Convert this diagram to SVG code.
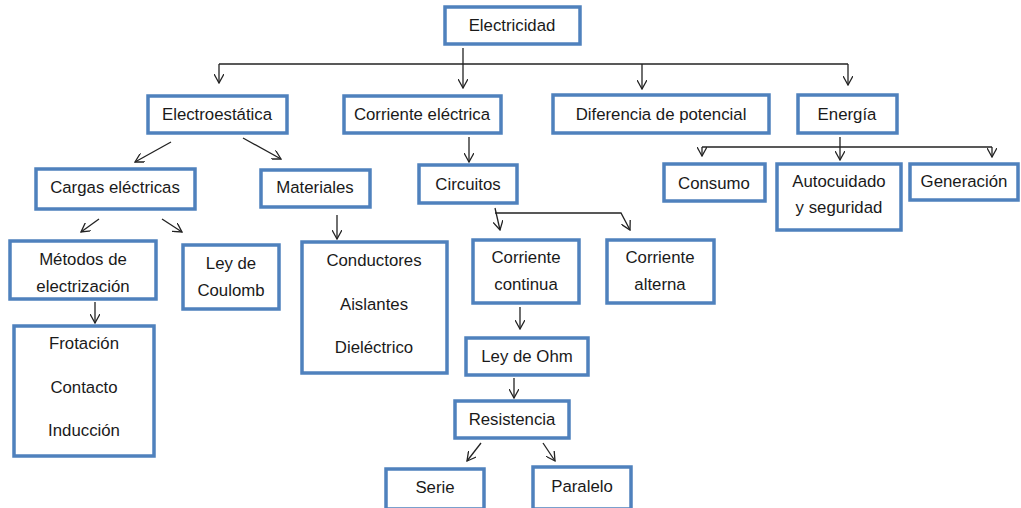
<svg xmlns="http://www.w3.org/2000/svg" width="1021" height="508" viewBox="0 0 1021 508">
<style>
.box{fill:#fff;stroke:#4F81BD;stroke-width:3.5}
.t{font-family:"Liberation Sans",Arial,sans-serif;font-size:16.8px;fill:#1a1a1a;text-anchor:middle}
.c{fill:none;stroke:#222;stroke-width:1.3}
</style>
<defs>
<marker id="ah" viewBox="0 0 10 10" refX="9" refY="5" markerWidth="10" markerHeight="10" markerUnits="userSpaceOnUse" orient="auto">
<path d="M0,0 L9,5 L0,10" fill="none" stroke="#222" stroke-width="1.3"/>
</marker>
</defs>
<rect width="1021" height="508" fill="#fff"/>
<g id="connectors">
<line class="c" x1="463" y1="48" x2="463" y2="88" marker-end="url(#ah)"/>
<path class="c" d="M219,64 H848"/>
<line class="c" x1="219" y1="64" x2="219" y2="83" marker-end="url(#ah)"/>
<line class="c" x1="642" y1="64" x2="642" y2="89" marker-end="url(#ah)"/>
<line class="c" x1="848" y1="64" x2="848" y2="85" marker-end="url(#ah)"/>
<line class="c" x1="840" y1="137" x2="840" y2="160" marker-end="url(#ah)"/>
<path class="c" d="M702,147 H992"/>
<line class="c" x1="702" y1="147" x2="702" y2="156" marker-end="url(#ah)"/>
<line class="c" x1="992" y1="147" x2="992" y2="157" marker-end="url(#ah)"/>
<line class="c" x1="171" y1="142" x2="135" y2="162" marker-end="url(#ah)"/>
<line class="c" x1="243" y1="138" x2="281" y2="159" marker-end="url(#ah)"/>
<line class="c" x1="99" y1="219" x2="81" y2="232" marker-end="url(#ah)"/>
<line class="c" x1="162" y1="219" x2="182" y2="232" marker-end="url(#ah)"/>
<line class="c" x1="337" y1="215" x2="337" y2="239" marker-end="url(#ah)"/>
<line class="c" x1="95" y1="302" x2="95" y2="323" marker-end="url(#ah)"/>
<line class="c" x1="469" y1="137" x2="469" y2="162" marker-end="url(#ah)"/>
<path class="c" d="M495,208 L500,230" marker-end="url(#ah)"/>
<path class="c" d="M495,213 H621 L630,230" marker-end="url(#ah)"/>
<line class="c" x1="520" y1="307" x2="520" y2="329" marker-end="url(#ah)"/>
<line class="c" x1="514" y1="378" x2="514" y2="398" marker-end="url(#ah)"/>
<line class="c" x1="481" y1="443" x2="467" y2="461" marker-end="url(#ah)"/>
<line class="c" x1="543" y1="443" x2="555" y2="461" marker-end="url(#ah)"/>
</g>
<g id="electricidad"><rect class="box" x="445" y="7" width="135" height="37"/><text class="t" x="512" y="31">Electricidad</text></g>
<g id="electroestatica"><rect class="box" x="148" y="96" width="139" height="37"/><text class="t" x="217" y="120">Electroestática</text></g>
<g id="corriente-electrica"><rect class="box" x="344" y="96" width="157" height="37"/><text class="t" x="422" y="120">Corriente eléctrica</text></g>
<g id="diferencia"><rect class="box" x="553" y="95" width="216" height="38"/><text class="t" x="661" y="120">Diferencia de potencial</text></g>
<g id="energia"><rect class="box" x="798" y="95" width="99" height="38"/><text class="t" x="847" y="120">Energía</text></g>
<g id="consumo"><rect class="box" x="664" y="164" width="101" height="37"/><text class="t" x="714" y="189">Consumo</text></g>
<g id="autocuidado"><rect class="box" x="777" y="164" width="124" height="66"/><text class="t" x="839" y="187">Autocuidado</text><text class="t" x="839" y="213">y seguridad</text></g>
<g id="generacion"><rect class="box" x="910" y="164" width="108" height="36"/><text class="t" x="964" y="187">Generación</text></g>
<g id="cargas"><rect class="box" x="36" y="169" width="159" height="40"/><text class="t" x="115" y="193">Cargas eléctricas</text></g>
<g id="materiales"><rect class="box" x="261" y="170" width="109" height="37"/><text class="t" x="315" y="193">Materiales</text></g>
<g id="metodos"><rect class="box" x="10" y="241" width="146" height="58"/><text class="t" x="83" y="265">Métodos de</text><text class="t" x="83" y="292">electrización</text></g>
<g id="coulomb"><rect class="box" x="183" y="245" width="96" height="64"/><text class="t" x="231" y="269">Ley de</text><text class="t" x="231" y="296">Coulomb</text></g>
<g id="conductores"><rect class="box" x="302" y="242" width="145" height="131"/><text class="t" x="374" y="266">Conductores</text><text class="t" x="374" y="310">Aislantes</text><text class="t" x="374" y="353">Dieléctrico</text></g>
<g id="frotacion"><rect class="box" x="14" y="326" width="140" height="130"/><text class="t" x="84" y="349">Frotación</text><text class="t" x="84" y="393">Contacto</text><text class="t" x="84" y="436">Inducción</text></g>
<g id="circuitos"><rect class="box" x="419" y="165" width="98" height="38"/><text class="t" x="468" y="190">Circuitos</text></g>
<g id="corriente-continua"><rect class="box" x="473" y="240" width="106" height="63"/><text class="t" x="526" y="263">Corriente</text><text class="t" x="526" y="290">continua</text></g>
<g id="corriente-alterna"><rect class="box" x="607" y="240" width="107" height="63"/><text class="t" x="660" y="263">Corriente</text><text class="t" x="660" y="290">alterna</text></g>
<g id="ley-ohm"><rect class="box" x="466" y="338" width="122" height="37"/><text class="t" x="527" y="362">Ley de Ohm</text></g>
<g id="resistencia"><rect class="box" x="455" y="401" width="114" height="37"/><text class="t" x="512" y="425">Resistencia</text></g>
<g id="serie"><rect class="box" x="386" y="469" width="98" height="40"/><text class="t" x="435" y="493">Serie</text></g>
<g id="paralelo"><rect class="box" x="533" y="467" width="98" height="42"/><text class="t" x="582" y="492">Paralelo</text></g>
</svg>
